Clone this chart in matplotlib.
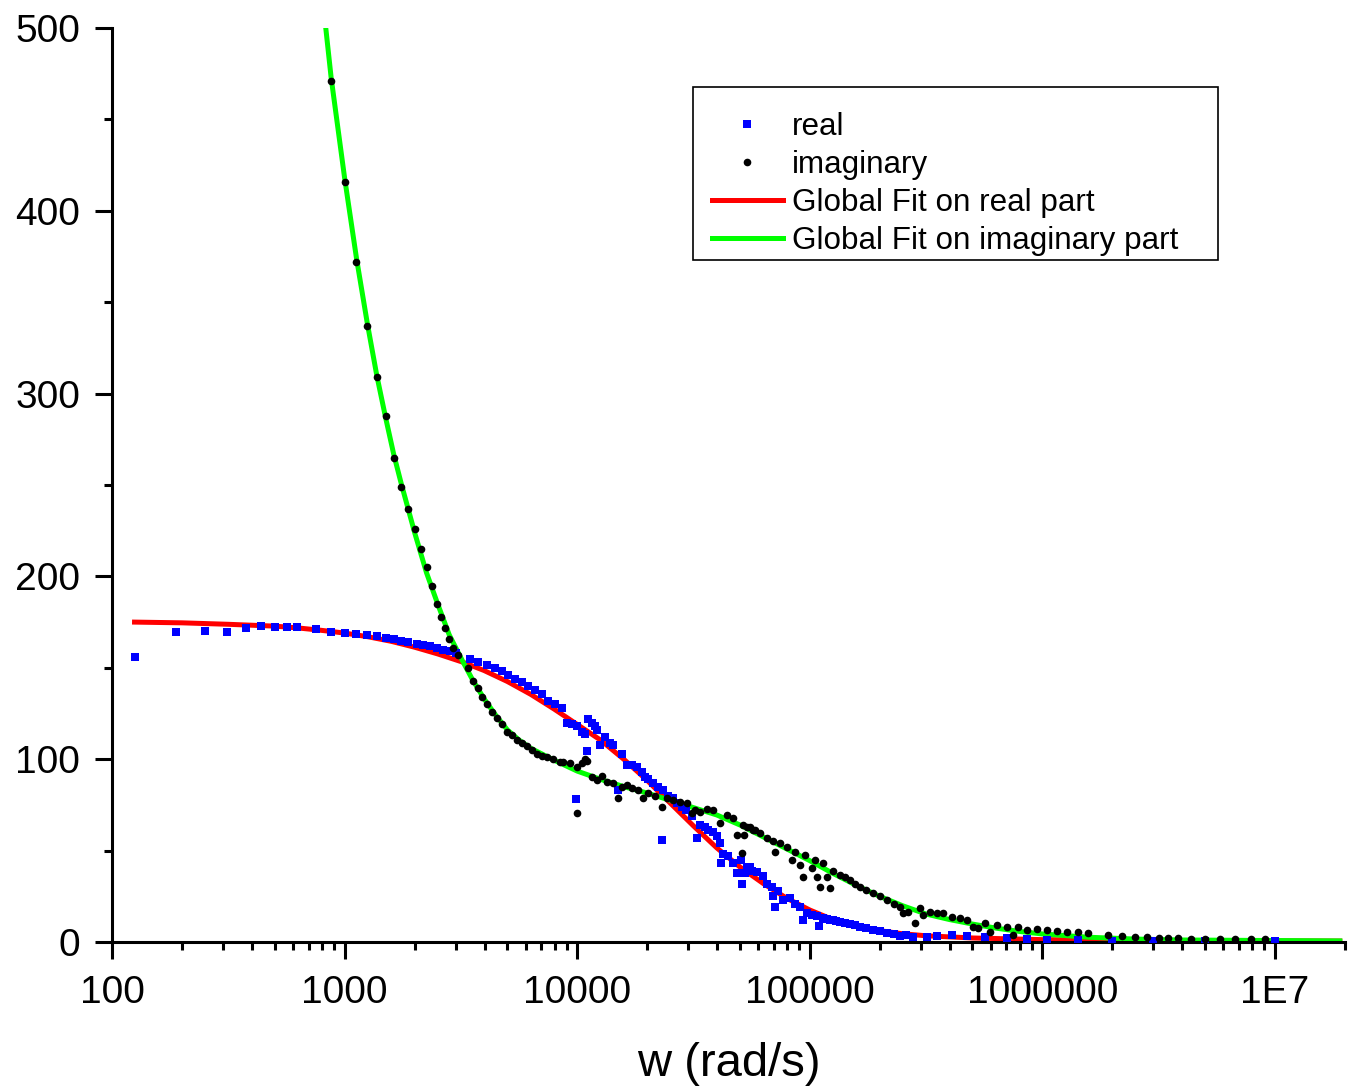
import matplotlib
matplotlib.use("Agg")
import matplotlib.pyplot as plt
from matplotlib.ticker import FixedLocator, FixedFormatter, LogLocator, MultipleLocator, NullFormatter
from matplotlib.patches import Rectangle

plt.rcParams['font.family'] = ['Liberation Sans', 'DejaVu Sans']

# measured real part (blue squares)
w_real = [125, 188, 250, 313, 375, 438, 500, 563, 625, 750, 875, 1000, 1125, 1250,
          1375, 1500, 1625, 1750, 1875, 2050, 2170, 2330, 2500, 2650, 2850, 3000,
          3470, 3740, 4100, 4430, 4750, 5050, 5400, 5800, 6170, 6600, 7050, 7500,
          8000, 8600, 9060, 9510, 9910, 10000, 10500, 10820, 11040, 11150, 11610,
          11950, 12190, 12560, 13190, 13870, 14290, 15010, 15620, 16420, 17250,
          18130, 19050, 19600, 20200, 21230, 22290, 23210, 23430, 24610, 25860,
          26900, 28300, 29440, 31240, 32840, 33830, 35560, 36590, 38460, 40000,
          41210, 41500, 42470, 44590, 46870, 48750, 50800, 51250, 52820, 53870,
          55500, 56620, 59480, 63140, 65680, 69000, 69700, 71100, 73300, 76900,
          82400, 86700, 91000, 93800, 97600, 102500, 107800, 109900, 114300,
          118900, 122500, 126200, 130000, 135200, 142000, 149300, 156000, 164900,
          175000, 187500, 200000, 215400, 230000, 244800, 260000, 278600, 320100,
          353200, 410000, 475500, 568400, 706800, 861500, 1050000, 1416000,
          2000000, 3000000, 5000000, 10000000]
re_val = [156, 169.6, 170, 169.6, 172, 173, 172.5, 172.5, 172.5, 171, 169.6, 169,
          168.5, 168, 167.4, 166.5, 165.8, 164.7, 164, 163, 162.5, 162, 161, 160,
          159, 158, 155, 153, 151.5, 150, 148, 146, 144, 142, 140, 138, 135.6, 132,
          130, 128, 120, 119, 78, 118, 115, 114, 104.5, 122, 120, 118, 116, 108,
          112, 109, 108, 83, 103, 97, 97, 96, 93, 90, 89, 87, 85, 56, 83, 80, 79,
          76, 74, 72, 69, 57, 64, 63, 61, 60, 58, 54, 43, 48, 47, 43, 38, 45, 32,
          38, 41, 41, 39, 38.5, 36, 32, 30, 25, 19, 28, 23, 24, 21, 19, 12, 16, 15,
          14, 9, 13, 12.5, 12, 12, 11.5, 11, 10.5, 10, 9.2, 8, 7.5, 6.5, 6, 5, 4.5,
          3.5, 3.8, 3, 3, 3.5, 3.8, 3.5, 3, 2, 1.5, 1.2, 1, 0.8, 0.6, 0.5, 0.4]

# measured imaginary part (black dots)
w_imag = [875, 1000, 1125, 1250, 1375, 1500, 1625, 1750, 1875, 2000, 2125, 2250,
          2375, 2500, 2600, 2700, 2800, 2920, 3060, 3400, 3580, 3730, 3900, 4100,
          4300, 4500, 4750, 5000, 5250, 5500, 5800, 6100, 6400, 6700, 7050, 7400,
          7900, 8450, 8710, 9330, 9950, 10000, 10500, 10820, 11040, 11610, 12190,
          12820, 13460, 14290, 15010, 15620, 16420, 17250, 18300, 19240, 20200,
          21650, 23210, 24380, 25860, 27720, 29720, 31240, 32190, 33830, 36260,
          38460, 41210, 44180, 46870, 48750, 51250, 51500, 52000, 53870, 55500,
          57150, 58320, 61280, 65680, 69700, 71100, 74700, 80000, 84100, 86700,
          91000, 93800, 95700, 102500, 105600, 107800, 111000, 114300, 118900,
          122500, 126200, 135200, 142000, 149300, 157000, 164900, 175000, 187500,
          200000, 215400, 230000, 244800, 252200, 265200, 284400, 298800, 307800,
          329700, 353200, 374800, 410000, 443700, 475500, 504800, 530400, 568400,
          597400, 640200, 706800, 750000, 788400, 861500, 951000, 1050000, 1160000,
          1282000, 1416000, 1564000, 1908000, 2210000, 2513000, 2830000, 3157000,
          3484000, 3846000, 4334000, 5025000, 5830000, 6760000, 7850000, 9100000]
im_val = [471, 416, 372, 337, 309, 288, 265, 249, 237, 226, 215, 205, 195, 185,
          178, 172, 166, 161, 157, 150, 143, 139, 134, 130, 126, 122.5, 119, 115,
          113, 110.5, 109, 107, 105, 103, 102, 101, 100, 98.5, 98.5, 98, 70.5, 96,
          98, 100, 99, 90, 88.6, 91, 87.5, 87, 79, 85, 86, 84, 83, 79, 81.5, 80,
          74, 79, 77.7, 76.6, 76, 70.5, 72, 71, 73, 72, 65, 69.5, 68, 58.5, 48.7,
          64, 58.5, 63, 63, 61, 61, 59.6, 57, 55, 49, 54, 52, 45, 49, 42, 35.5,
          47.6, 40.5, 45, 35.5, 30, 43, 35.5, 29.5, 39, 36.7, 35.5, 34, 32, 30,
          28.5, 26.8, 25, 23, 21, 19, 16, 16.4, 10.4, 18.6, 14.8, 16.4, 15.9, 15.9,
          13.7, 13, 12, 8.2, 7.7, 10.4, 5.5, 9.3, 8.2, 3.8, 8.2, 6.6, 7.1, 6.6, 6,
          5.5, 5.5, 4.9, 3.8, 3.3, 2.7, 2.7, 2.2, 2.2, 2, 1.9, 1.8, 1.7, 1.6, 1.5,
          1.4]

# global fit curves
w_fit_re = [125, 200, 316, 500, 631, 794, 1000, 1259, 1585, 1995, 2512, 3236,
            3981, 5012, 6310, 7943, 10000, 12589, 15849, 19953, 25119, 31623,
            39811, 50119, 63096, 79433, 100000, 125893, 158489, 199526, 251189,
            316228, 501187, 1000000, 3162278, 19000000]
fit_re = [175, 174.6, 173.8, 172.8, 171.8, 170.5, 169, 167, 164.5, 161.3, 157.6,
          153, 148.5, 142.5, 135.5, 127.5, 119, 110.5, 100, 88.5, 76, 63.5, 51.5,
          41, 32, 24, 17.5, 12.2, 8.6, 6.2, 4.5, 3.4, 2.2, 1.3, 0.8, 0.5]

w_fit_im = [830, 875, 1000, 1125, 1250, 1375, 1500, 1625, 1750, 2000, 2250, 2512,
            2818, 3236, 3548, 3981, 4467, 5012, 5623, 6310, 7943, 10000, 12589,
            15849, 19953, 25119, 31623, 39811, 50119, 63096, 79433, 100000,
            125893, 158489, 199526, 251189, 316228, 398107, 501187, 630957,
            794328, 1000000, 1584893, 2511886, 3981072, 10000000, 19000000]
fit_im = [500, 473, 418, 374, 339, 310, 287, 267, 251, 224, 202, 185, 168, 153,
          143.5, 133, 124, 116, 110.5, 106, 99.5, 93.5, 89, 85, 81.5, 77.5, 73.5,
          69.5, 64, 57.5, 51, 44.5, 37.5, 31, 25, 19.8, 15.3, 12.3, 9.8, 7.6, 5.8,
          4.4, 2.6, 1.6, 1.1, 0.8, 0.6]

x_ticks = [1e2, 1e3, 1e4, 1e5, 1e6, 1e7]
x_tick_labels = ['100', '1000', '10000', '100000', '1000000', '1E7']

fig = plt.figure(figsize=(13.5, 10.91), dpi=100)
ax = fig.add_axes([112 / 1350, 149 / 1091, 1233 / 1350, 914 / 1091])

ax.plot(w_real, re_val, 's', color='#0000ff', markersize=5.5, markeredgewidth=0,
        label='real', zorder=3)
ax.plot(w_imag, im_val, 'o', color='black', markersize=5.5, markeredgewidth=0,
        label='imaginary', zorder=3)
ax.plot(w_fit_re, fit_re, '-', color='#ff0000', linewidth=3.6,
        label='Global Fit on real part', zorder=2)
ax.plot(w_fit_im, fit_im, '-', color='#00ff00', linewidth=3.6,
        label='Global Fit on imaginary part', zorder=2)

ax.set_xscale('log')
ax.set_xlim(100, 2e7)
ax.set_ylim(0, 500)

ax.xaxis.set_major_locator(FixedLocator(x_ticks))
ax.xaxis.set_major_formatter(FixedFormatter(x_tick_labels))
ax.xaxis.set_minor_locator(LogLocator(base=10, subs=range(2, 10), numticks=20))
ax.xaxis.set_minor_formatter(NullFormatter())
ax.yaxis.set_major_locator(MultipleLocator(100))
ax.yaxis.set_minor_locator(MultipleLocator(50))

for s in ['top', 'right']:
    ax.spines[s].set_visible(False)
for s in ['left', 'bottom']:
    ax.spines[s].set_linewidth(2.2)

ax.tick_params(which='major', direction='out', length=12, width=2.2, labelsize=28)
ax.tick_params(axis='x', which='major', pad=12)
ax.tick_params(axis='y', which='major', pad=11)
ax.tick_params(which='minor', direction='out', length=6, width=2.2)

ax.set_xlabel('w (rad/s)', fontsize=34, labelpad=22)

leg = ax.legend(loc='upper left', bbox_to_anchor=(712 / 1350, 1 - 112 / 1091),
                bbox_transform=fig.transFigure, frameon=False, fontsize=22.6,
                labelspacing=0.25, handlelength=2.25, handletextpad=0.3,
                borderpad=0, borderaxespad=0, markerscale=1.0)

box = Rectangle((693 / 1350, 1 - 260 / 1091), 525 / 1350, 173 / 1091,
                transform=fig.transFigure, fill=False, edgecolor='black',
                linewidth=1.2)
fig.patches.append(box)

fig.savefig('out.png', dpi=100)
